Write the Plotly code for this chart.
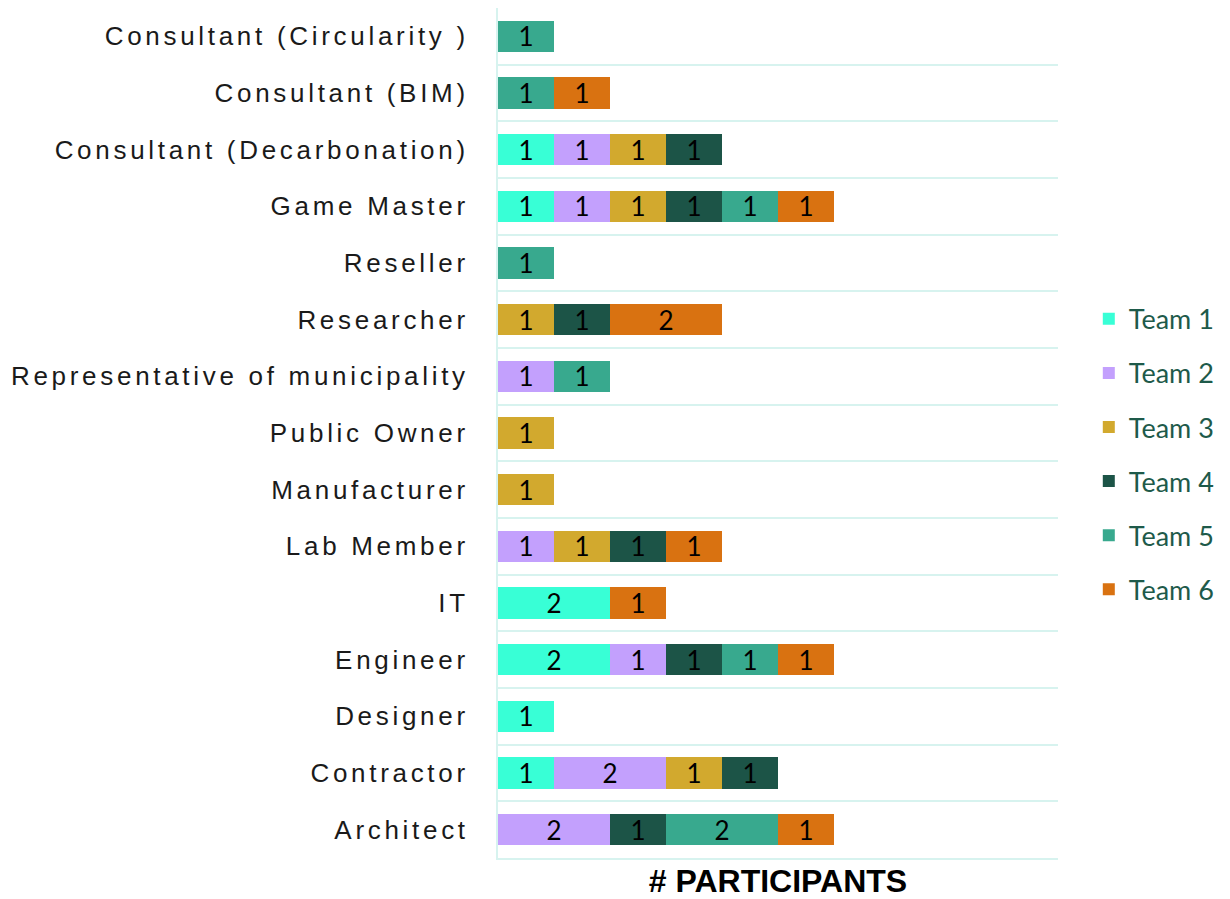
import plotly.graph_objects as go

categories = [
    "Consultant (Circularity )",
    "Consultant (BIM)",
    "Consultant (Decarbonation)",
    "Game Master",
    "Reseller",
    "Researcher",
    "Representative of municipality",
    "Public Owner",
    "Manufacturer",
    "Lab Member",
    "IT",
    "Engineer",
    "Designer",
    "Contractor",
    "Architect",
]

team1 = [None, None, 1, 1, None, None, None, None, None, None, 2, 2, 1, 1, None]
team2 = [None, None, 1, 1, None, None, 1, None, None, 1, None, 1, None, 2, 2]
team3 = [None, None, 1, 1, None, 1, None, 1, 1, 1, None, None, None, 1, None]
team4 = [None, None, 1, 1, None, 1, None, None, None, 1, None, 1, None, 1, 1]
team5 = [1, 1, None, 1, 1, None, 1, None, None, None, None, 1, None, None, 2]
team6 = [None, 1, None, 1, None, 2, None, None, None, 1, 1, 1, None, None, 1]

series = [
    ("Team 1", team1, "#38FFD6"),
    ("Team 2", team2, "#C3A0FD"),
    ("Team 3", team3, "#D2A92E"),
    ("Team 4", team4, "#1C5447"),
    ("Team 5", team5, "#38A98E"),
    ("Team 6", team6, "#D97211"),
]

fig = go.Figure()
for i, (name, vals, color) in enumerate(series):
    fig.add_trace(go.Bar(
        y=categories, x=vals, name=name, orientation="h",
        marker=dict(color=color, line=dict(width=0)),
        text=vals, texttemplate="%{x}", textposition="inside",
        insidetextanchor="middle", textangle=0, constraintext="none",
        textfont=dict(family="Lato, Open Sans, sans-serif", size=26, color="black"),
        legendgroup=f"g{i}",
        width=0.55,
    ))

grid = "#D7F3EF"
fig.update_layout(
    barmode="stack",
    width=1214, height=891,
    margin=dict(l=490, r=164, t=0, b=41),
    plot_bgcolor="white", paper_bgcolor="white",
    showlegend=True,
    legend=dict(
        x=1.055, xanchor="left", y=0.475, yanchor="middle",
        font=dict(family="Lato, Open Sans, sans-serif", size=27, color="#1E5A4A"),
        tracegroupgap=16,
        itemwidth=30,
    ),
)
ticktext = [f'<span style="letter-spacing:3.7px">{c}</span>' for c in categories]
fig.update_yaxes(
    autorange="reversed",
    type="category",
    tickson="boundaries",
    tickvals=categories, ticktext=ticktext,
    showgrid=True, gridcolor=grid, gridwidth=2,
    showline=True, linecolor=grid, linewidth=2,
    ticks="", ticklen=0, ticklabelstandoff=22,
    tickfont=dict(family="Liberation Sans, Arial, sans-serif", size=26, color="#1A1A1A"),
    automargin=False,
)
fig.update_xaxes(
    range=[0, 10],
    showgrid=False, zeroline=False, showticklabels=False, ticks="",
    showline=True, linecolor=grid, linewidth=2,
    title=dict(text="<b># PARTICIPANTS</b>", standoff=16,
               font=dict(family="Liberation Sans, Arial, sans-serif", size=32, color="black")),
    automargin=False,
)

fig.write_html("out.html")
